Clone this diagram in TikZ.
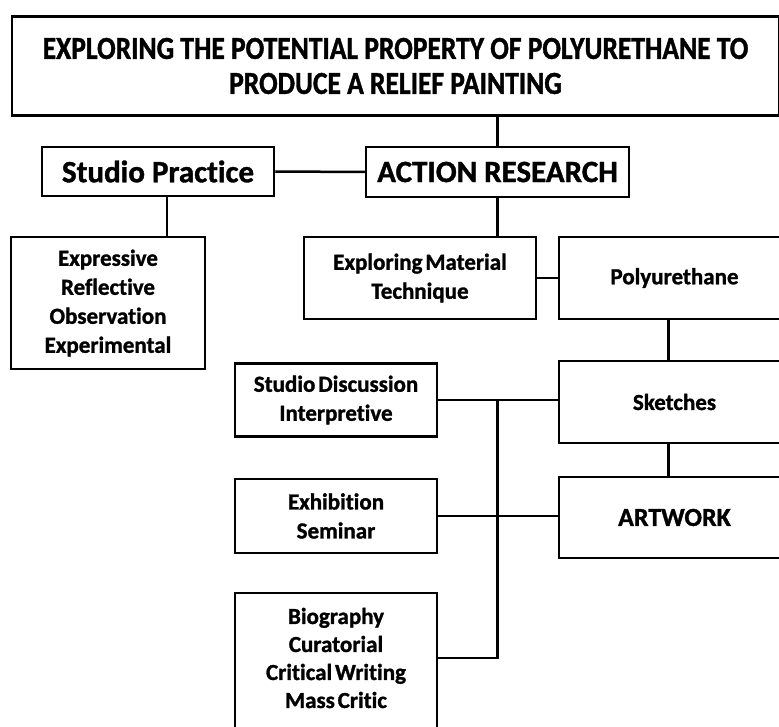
\documentclass[tikz,border=0pt]{standalone}
\usepackage{fontspec}
\setmainfont{Carlito}[Ligatures=NoCommon, BoldFeatures={FakeBold=1.2}]
\newfontfamily\titlefont{Carlito}[FakeStretch=0.86, Ligatures=NoCommon, BoldFeatures={FakeBold=1.2}]
\newfontfamily\boxfont{Carlito}[WordSpace=0.55, Ligatures=NoCommon, BoldFeatures={FakeBold=1.2}]
\usetikzlibrary{calc}

\tikzset{
    box/.style={draw, line width=2.5pt, rectangle, align=center, inner sep=0pt,
        font=\boxfont\bfseries\fontsize{23}{29}\selectfont},
    bigbox/.style={box, font=\bfseries\fontsize{31}{36}\selectfont},
    link/.style={line width=2.5pt},
}

\begin{document}
\begin{tikzpicture}[x=1pt, y=-1pt]
    \useasboundingbox (0,0) rectangle (779,727);

    \node[box, minimum width=767pt, minimum height=99pt,
        font=\titlefont\bfseries\fontsize{32}{35}\selectfont] (title) at (395.5,66)
        {EXPLORING THE POTENTIAL PROPERTY OF POLYURETHANE TO\\PRODUCE A RELIEF PAINTING};

    \node[bigbox, minimum width=232pt, minimum height=49pt] (studio) at (158,171.5) {Studio Practice};
    \node[bigbox, minimum width=263pt, minimum height=50pt] (action) at (497.5,172) {ACTION RESEARCH};

    \node[box, minimum width=194pt, minimum height=132pt] (modes) at (108,303)
        {Expressive\\Reflective\\Observation\\Experimental};
    \node[box, minimum width=232pt, minimum height=82pt] (explore) at (420,278)
        {Exploring Material\\Technique};

    % right column runs off the page
    \node[box, minimum width=231pt, minimum height=82pt] (poly) at (674.5,278) {Polyurethane};
    \node[box, minimum width=231pt, minimum height=82pt] (sketch) at (674.5,402) {Sketches};
    \node[box, minimum width=231pt, minimum height=81pt, font=\bfseries\fontsize{26}{30}\selectfont]
        (art) at (674.5,517.5) {ARTWORK};

    \node[box, minimum width=202pt, minimum height=73pt] (discuss) at (336,400)
        {Studio Discussion\\Interpretive};
    \node[box, minimum width=202pt, minimum height=74pt] (exhib) at (336,516)
        {Exhibition\\Seminar};
    \node[box, minimum width=202pt, minimum height=150pt] (bio) at (336,668) {};
    \node[align=center, font=\boxfont\bfseries\fontsize{23}{28}\selectfont] (biotext) at (336,658)
        {Biography\\Curatorial\\Critical Writing\\Mass Critic};

    % links
    \draw[link] (title.south -| action) -- (action.north);
    \draw[link] (studio.east) -- (action.west);
    \draw[link] ($(studio.south)+(9,0)$) coordinate (sp) -- (sp |- modes.north);
    \draw[link] (action.south) -- (action.south |- explore.north);
    \draw[link] (explore.east) -- (explore.east -| poly.west);
    \draw[link] ($(poly.south)+(-6,0)$) coordinate (pp) -- (pp |- sketch.north);
    \draw[link] (pp |- sketch.south) -- (pp |- art.north);
    \draw[link] (discuss.east) -- (discuss.east -| sketch.west);
    \draw[link] (exhib.east) -- (exhib.east -| art.west);
    \draw[link] (action.south |- discuss.east) -- (action.south |- biotext) -- (biotext -| bio.east);
\end{tikzpicture}
\end{document}
